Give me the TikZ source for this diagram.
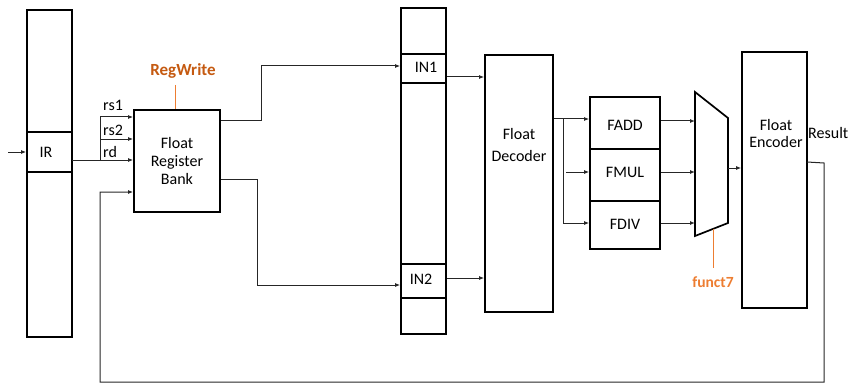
\documentclass[tikz,border=0pt]{standalone}
\usepackage{fontspec}
\setmainfont{Carlito}
\usetikzlibrary{arrows.meta}
\definecolor{orgA}{HTML}{C55A11}
\definecolor{orgB}{HTML}{ED7D31}
\definecolor{wire}{HTML}{262626}
\begin{document}
\begin{tikzpicture}[x=1pt,y=-1pt,
  blk/.style={draw=black,line width=1.7pt,inner sep=0pt,minimum width=#1},
  lbl/.style={font=\fontsize{16}{19}\selectfont,inner sep=0pt},
  wr/.style={draw=wire,line width=1pt},
  arr/.style={wr,-{Latex[length=5pt,width=4pt]}}]
\useasboundingbox (0,0) rectangle (848,385);
% left pipeline register
\node[blk=45pt,minimum height=327pt] (lreg) at (49.5,173.5) {};
\node[blk=45pt,minimum height=40pt] (ir) at (49.5,152) {};
\node[lbl] (irt) at (46,152) {IR};
% register bank
\node[blk=86pt,minimum height=102pt,lbl,align=center,font=\fontsize{16}{18}\selectfont] (rb) at (177,161) {Float\\Register\\Bank};
% middle pipeline register
\node[blk=45pt,minimum height=326pt] (mreg) at (423.5,171) {};
\node[blk=45pt,minimum height=29pt] (in1) at (423.5,68.5) {};
\node[blk=45pt,minimum height=34pt] (in2) at (423.5,281) {};
\node[lbl] (in1t) at (426,67) {IN1};
\node[lbl] (in2t) at (421,279) {IN2};
% decoder
\node[blk=68pt,minimum height=257pt] (dec) at (519,183.5) {};
\node[lbl,align=center,font=\fontsize{16}{22}\selectfont] (dect) at (519,145) {Float\\Decoder};
% units
\node[blk=70pt,minimum height=52pt] (fadd) at (625,123) {};
\node[blk=70pt,minimum height=52pt] (fmul) at (625,175) {};
\node[blk=70pt,minimum height=48pt] (fdiv) at (625,225) {};
\node[lbl] (faddt) at (625,125) {FADD};
\node[lbl] (fmult) at (625,172) {FMUL};
\node[lbl] (fdivt) at (625,224) {FDIV};
% mux
\coordinate (m1) at (695,92);
\coordinate (m2) at (728,118);
\coordinate (m3) at (728,223);
\coordinate (m4) at (695,236);
\draw[line width=1.7pt,line join=miter] (m1) -- (m2) -- (m3) -- (m4) -- cycle;
% encoder
\node[blk=65pt,minimum height=256pt] (enc) at (774.5,180) {};
\node[lbl,align=center,font=\fontsize{16}{17}\selectfont] (enct) at (776,133) {Float\\Encoder};
\node[lbl,anchor=west] (res) at (808,133) {Result};
% labels
\node[lbl,anchor=west] (rs1) at (103,105) {rs1};
\node[lbl,anchor=west] (rs2) at (103,130) {rs2};
\node[lbl,anchor=west] (rd) at (103,152) {rd};
\node[lbl,text=orgA,font=\fontsize{17}{19}\selectfont\bfseries] (rw) at (183,71) {RegWrite};
\node[lbl,text=orgB,font=\fontsize{15.5}{18}\selectfont\bfseries] (f7) at (713,282) {funct7};
% connectors
\coordinate (inS) at (8,152);
\draw[arr] (inS) -- (ir.west);
\coordinate (irout) at (72,160);
\coordinate (j1) at (100,160);
\draw[wr] (irout) -- (j1);
\draw[arr] (j1) -- (100,117) -- (rb.west |- 0,117);
\draw[arr] (100,139) -- (rb.west |- 0,139);
\draw[arr] (j1) -- (rb.west |- 0,160);
\coordinate (encout) at (807,162);
\draw[arr] (encout) -- (824,163) -- (824,382) -- (100,382) -- (100,192) -- (rb.west |- 0,192);
\coordinate (rwa) at (175,85);
\draw[draw=orgB,line width=1pt] (rwa) -- (rb.north -| rwa);
\draw[arr] (rb.east |- 0,121) -- (261,121) -- (261,66) -- (in1.west |- 0,66);
\draw[arr] (rb.east |- 0,179) -- (257,179) -- (257,285) -- (in2.west |- 0,285);
\draw[arr] (in1.east |- 0,77) -- (dec.west |- 0,77);
\draw[arr] (in2.east |- 0,278) -- (dec.west |- 0,278);
\draw[arr] (dec.east |- 0,119) -- (fadd.west |- 0,119);
\draw[arr] (563,119) -- (563,223) -- (fdiv.west |- 0,223);
\draw[arr] (566,172) -- (fmul.west |- 0,172);
\draw[arr] (fadd.east |- 0,121) -- (695,121);
\draw[arr] (fmul.east |- 0,172) -- (695,172);
\draw[arr] (fdiv.east |- 0,223) -- (695,223);
\draw[arr] (728,168) -- (enc.west |- 0,168);
\draw[draw=orgB,line width=1pt] (713,229) -- (f7.north |- 0,268);
\end{tikzpicture}
\end{document}
